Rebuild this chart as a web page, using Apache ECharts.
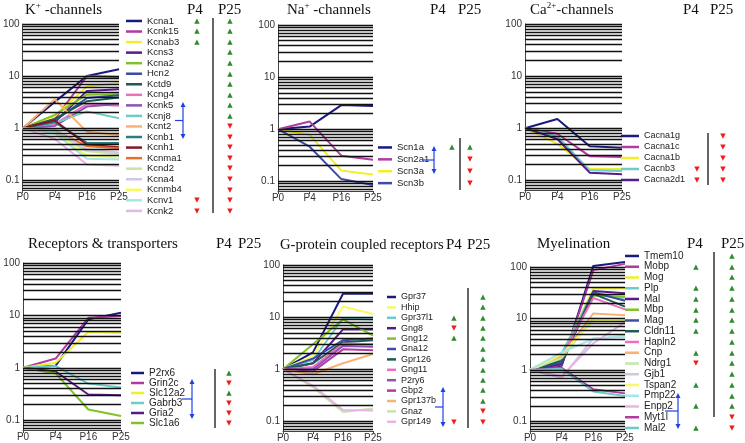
<!DOCTYPE html>
<html>
<head>
<meta charset="utf-8">
<script src="https://cdn.jsdelivr.net/npm/echarts@6/dist/echarts.min.js"></script>
<style>
  html, body { margin: 0; padding: 0; background: #fff; }
  #chart { width: 745px; height: 443px; }
</style>
</head>
<body>
<div id="chart"></div>
<script>
// ---- data ----
const xLabels = ['P0', 'P4', 'P16', 'P25'];
const gridTicks = [0.07, 0.08, 0.09, 0.1, 0.2, 0.3, 0.4, 0.5, 0.6, 0.7, 0.8, 0.9,
  1, 2, 3, 4, 5, 6, 7, 8, 9, 10, 20, 30, 40, 50, 60, 70, 80, 90, 100];

const kNames = ['Kcna1', 'Kcnk15', 'Kcnab3', 'Kcns3', 'Kcna2', 'Hcn2', 'Kctd9', 'Kcng4', 'Kcnk5', 'Kcnj8',
  'Kcnt2', 'Kcnb1', 'Kcnh1', 'Kcnma1', 'Kcnd2', 'Kcna4', 'Kcnmb4', 'Kcnv1', 'Kcnk2'];
const kValues = [
  [1, 3.2, 10, 13.5], [1, 1.5, 10, 9.6], [1, 1.7, 6.3, 7.3], [1, 1.3, 5.2, 5.6], [1, 1.8, 4.4, 4.5],
  [1, 1.4, 3.8, 4.3], [1, 1.5, 3.3, 3.9], [1, 1.2, 2.9, 2.7], [1, 1.1, 2.6, 2.9], [1, 1.25, 2.1, 1.55],
  [1, 3.6, 0.85, 0.74], [1, 1.3, 0.52, 0.52], [1, 1.4, 0.48, 0.43], [1, 0.9, 0.45, 0.41], [1, 0.85, 0.36, 0.32],
  [1, 0.95, 0.39, 0.34], [1, 0.8, 0.3, 0.27], [1, 0.8, 0.26, 0.25], [1, 0.62, 0.2, 0.19]];
const kP4 = ['u', 'u', 'u', '', '', '', '', '', '', '', '', '', '', '', '', '', '', 'd', 'd'];
const kP25 = ['u', 'u', 'u', 'u', 'u', 'u', 'u', 'u', 'u', 'u', 'd', 'd', 'd', 'd', 'd', 'd', 'd', 'd', 'd'];

const naNames = ['Scn1a', 'Scn2a1', 'Scn3a', 'Scn3b'];
const naValues = [[1, 1.12, 2.9, 2.8], [1, 1.4, 0.31, 0.26], [1, 0.78, 0.16, 0.135], [1, 0.46, 0.11, 0.085]];
const naP4 = ['u', '', '', ''];
const naP25 = ['u', 'd', 'd', 'd'];

const caNames = ['Cacna1g', 'Cacna1c', 'Cacna1b', 'Cacnb3', 'Cacna2d1'];
const caValues = [[1, 1.5, 0.45, 0.42], [1, 0.78, 0.29, 0.28], [1, 0.5, 0.165, 0.165],
  [1, 0.7, 0.155, 0.15], [1, 0.62, 0.14, 0.13]];
const caP4 = ['', '', '', 'd', 'd'];
const caP25 = ['d', 'd', 'd', 'd', 'd'];

const recNames = ['P2rx6', 'Grin2c', 'Slc12a2', 'Gabrb3', 'Gria2', 'Slc1a6'];
const recValues = [[1, 1.1, 8.4, 11.2], [1, 1.5, 9, 9.7], [1, 1.25, 4.8, 4.6],
  [1, 1.08, 0.5, 0.42], [1, 0.85, 0.31, 0.3], [1, 0.78, 0.16, 0.12]];
const recP4 = ['', '', '', '', '', ''];
const recP25 = ['u', 'd', 'u', 'd', 'd', 'd'];

const gpNames = ['Gpr37', 'Hhip', 'Gpr37l1', 'Gng8', 'Gng12', 'Gna12', 'Gpr126', 'Gng11', 'P2ry6', 'Gbp2',
  'Gpr137b', 'Gnaz', 'Gpr149'];
const gpValues = [[1, 2.1, 28, 28], [1, 1.8, 16, 11.5], [1, 1.5, 9.5, 9], [1, 1.3, 5.8, 5.8], [1, 3.0, 9, 4.4],
  [1, 1.6, 3.6, 3.9], [1, 1.3, 3.3, 3.6], [1, 1.1, 3.1, 3.0], [1, 1.0, 2.8, 2.7], [1, 0.9, 2.4, 2.3],
  [1, 0.8, 1.3, 1.95], [1, 0.45, 0.15, 0.175], [1, 0.48, 0.165, 0.16]];
const gpP4 = ['', '', 'u', 'd', 'u', '', '', '', '', '', '', '', 'd'];
const gpP25 = ['u', 'u', 'u', 'u', 'u', 'u', 'u', 'u', 'u', 'u', 'u', 'd', 'd'];

const myNames = ['Tmem10', 'Mobp', 'Mog', 'Plp', 'Mal', 'Mbp', 'Mag', 'Cldn11', 'Hapln2', 'Cnp',
  'Ndrg1', 'Gjb1', 'Tspan2', 'Pmp22', 'Enpp2', 'Myt1l', 'Mal2'];
const myValues = [[1, 1.2, 105, 125], [1, 1.25, 87, 115], [1, 2.0, 38, 38], [1, 2.1, 33, 23], [1, 1.3, 34, 31],
  [1, 1.6, 28, 26], [1, 1.4, 32, 22], [1, 1.5, 30, 17], [1, 1.8, 25, 15], [1, 1.9, 12.5, 11.5],
  [1, 1.7, 10, 9], [1, 0.7, 4.1, 4.4], [1, 2.0, 9, 9.5], [1, 2.2, 4.0, 4.6], [1, 0.75, 3.3, 8.5],
  [1, 1.1, 0.42, 0.35], [1, 1.05, 0.38, 0.31]];
const myP4 = ['', 'u', '', 'u', 'u', 'u', 'u', 'u', '', 'u', 'd', '', 'u', '', 'u', '', 'u'];
const myP25 = ['u', 'u', 'u', 'u', 'u', 'u', 'u', 'u', 'u', 'u', 'u', 'u', 'u', 'u', 'u', 'd', 'd'];

// ---- styles ----
const pal = ['#1a1a7e', '#b23aa0', '#f0ef2a', '#561a8a', '#82c12a', '#3b4ea3', '#1d5c52', '#f06ec0', '#8e52b4',
  '#6fcbcb', '#f9b272', '#2b7c84', '#861626', '#ec6c2a', '#c4e7a4', '#cfc7e3', '#fafa60', '#a6e8e8', '#e6b4e6'];
const upColor = '#2e8b2e';
const downColor = '#ee1c1c';
const serif = 'Liberation Serif';
const sans = 'Liberation Sans';

const panels = [
  { names: kNames, values: kValues, p4: kP4, p25: kP25,
    colors: pal.map((c, i) => i),
    grid: { left: 21, top: 24, width: 98, height: 166 },
    lg: { left: 126, top: 15.7, iw: 16, step: 10.55, fs: 9.5, nW: 44, bW: 54 } },
  { names: naNames, values: naValues, p4: naP4, p25: naP25,
    colors: [0, 1, 2, 5],
    grid: { left: 278, top: 25, width: 95, height: 166 },
    lg: { left: 378, top: 141.5, iw: 14, step: 11.9, fs: 9.5, nW: 49, bW: 24 } },
  { names: caNames, values: caValues, p4: caP4, p25: caP25,
    colors: [0, 1, 2, 9, 3],
    grid: { left: 525, top: 24, width: 97, height: 166 },
    lg: { left: 621, top: 130.5, iw: 18, step: 11, fs: 9, nW: 47, bW: 40 } },
  { names: recNames, values: recValues, p4: recP4, p25: recP25,
    colors: [0, 1, 2, 9, 3, 4],
    grid: { left: 23, top: 263, width: 98, height: 167 },
    lg: { left: 131, top: 368, iw: 13, step: 10, fs: 10, nW: 50, bW: 36 } },
  { names: gpNames, values: gpValues, p4: gpP4, p25: gpP25,
    colors: [0, 16, 9, 3, 4, 5, 6, 7, 8, 1, 10, 14, 18],
    grid: { left: 283, top: 265, width: 90, height: 166 },
    lg: { left: 387, top: 291.8, iw: 9, step: 10.4, fs: 9, nW: 47, bW: 46 } },
  { names: myNames, values: myValues, p4: myP4, p25: myP25,
    colors: [0, 1, 2, 9, 3, 4, 5, 6, 7, 10, 14, 15, 16, 17, 18, 1, 9],
    grid: { left: 530, top: 267, width: 95, height: 165 },
    lg: { left: 625, top: 250.6, iw: 14, step: 10.75, fs: 10, nW: 46, bW: 60 } }
];

function isDecade(v) {
  const l = Math.log10(v);
  return Math.abs(l - Math.round(l)) < 1e-6;
}

const grids = [], xAxes = [], yAxes = [], series = [], legends = [];

panels.forEach((p, pi) => {
  grids.push(p.grid);
  xAxes.push({
    gridIndex: pi, type: 'category', data: xLabels, boundaryGap: false,
    axisLine: { onZero: false, lineStyle: { color: '#444' } },
    axisTick: { length: 3, lineStyle: { color: '#444' } },
    axisLabel: { interval: 0, margin: 2, fontSize: 10, fontFamily: sans, color: '#333' },
    splitLine: { show: false }
  });
  yAxes.push({
    gridIndex: pi, type: 'log', min: 0.065, max: 100,
    axisLine: { show: true, lineStyle: { color: '#444' } },
    axisTick: { length: 3, lineStyle: { color: '#444' } },
    axisLabel: {
      margin: 3, fontSize: 10, fontFamily: sans, color: '#333',
      formatter: v => (isDecade(v) ? String(Math.round(v * 10) / 10) : '')
    },
    splitLine: { show: false }
  });

  // horizontal rulings of the log grid
  series.push({
    type: 'line', xAxisIndex: pi, yAxisIndex: pi, data: [], z: 1, silent: true,
    markLine: {
      silent: true, symbol: ['none', 'none'], animation: false,
      label: { show: false },
      lineStyle: { color: '#111', width: 1.3, type: 'solid' },
      emphasis: { disabled: true },
      data: gridTicks.map(v => ({ yAxis: v }))
    }
  });

  p.names.forEach((name, i) => {
    series.push({
      name, type: 'line', xAxisIndex: pi, yAxisIndex: pi, z: 3,
      data: p.values[i], showSymbol: false, clip: false,
      color: pal[p.colors[i]],
      lineStyle: { width: 2 },
      emphasis: { disabled: true }
    });
  });

  const sym = d => (d === 'u' ? '\u25B2' : d === 'd' ? '\u25BC' : '\u00a0');
  const tri = (w, c) => ({ width: w, align: 'center', fontSize: 7, fontFamily: 'DejaVu Sans', color: c, lineHeight: p.lg.step });
  legends.push({
    data: p.names, orient: 'vertical', left: p.lg.left, top: p.lg.top, padding: 0,
    itemGap: 0, itemWidth: p.lg.iw, itemHeight: 2.5, icon: 'rect', selectedMode: false,
    textStyle: {
      fontSize: p.lg.fs, fontFamily: sans, color: '#222', lineHeight: p.lg.step,
      rich: {
        n: { width: p.lg.nW, fontSize: p.lg.fs, fontFamily: sans, color: '#222', lineHeight: p.lg.step },
        au: tri(12, upColor), ad: tri(12, downColor), ae: tri(12, '#fff'),
        bu: tri(p.lg.bW, upColor), bd: tri(p.lg.bW, downColor), be: tri(p.lg.bW, '#fff')
      }
    },
    formatter: name => {
      const i = p.names.indexOf(name);
      const a = p.p4[i] || 'e', b = p.p25[i] || 'e';
      return `{n|${name}}{a${a}|${sym(p.p4[i])}}{b${b}|${sym(p.p25[i])}}`;
    }
  });
});

// ---- annotations ----
const graphic = [];
function title(x, y, parts, size) {
  const fs = size || 15;
  graphic.push({
    type: 'text', x, y, z: 10,
    style: {
      text: parts, verticalAlign: 'middle', fill: '#111',
      rich: {
        t: { fontFamily: serif, fontSize: fs, lineHeight: 18, fill: '#111' },
        s: { fontFamily: serif, fontSize: 9, lineHeight: 18, verticalAlign: 'top', fill: '#111' }
      }
    }
  });
}
title(25, 10, '{t|K}{s|+}{t| -channels}');
title(287, 10, '{t|Na}{s|+}{t| -channels}');
title(530, 10, '{t|Ca}{s|2+}{t|-channels}');
title(28, 244, '{t|Receptors & transporters}');
title(280, 245, '{t|G-protein coupled receptors}', 14.6);
title(537, 244, '{t|Myelination}');
[[187, 10], [218, 10], [430, 10], [458, 10], [683, 10], [710, 10],
 [216, 244], [238, 244], [446, 245], [467, 245], [687, 244], [721, 244]].forEach((pt, i) => {
  title(pt[0], pt[1], '{t|' + (i % 2 ? 'P25' : 'P4') + '}');
});

[[213, 18, 213], [460, 138, 190], [708, 133, 185], [215, 369, 428], [468, 288, 428], [714, 252, 417]]
  .forEach(s => graphic.push({
    type: 'line', z: 10, shape: { x1: s[0], y1: s[1], x2: s[0], y2: s[2] },
    style: { stroke: '#333', lineWidth: 1.5 }
  }));

function arrow(x, y1, y2, tx) {
  const blue = '#1f3fe6';
  const ym = (y1 + y2) / 2;
  graphic.push({ type: 'line', z: 10, shape: { x1: x, y1: y1 + 3, x2: x, y2: y2 - 3 }, style: { stroke: blue, lineWidth: 1.2 } });
  graphic.push({ type: 'line', z: 10, shape: { x1: tx, y1: ym, x2: x, y2: ym }, style: { stroke: blue, lineWidth: 1.2 } });
  graphic.push({ type: 'polygon', z: 10, shape: { points: [[x, y1], [x - 2.5, y1 + 5], [x + 2.5, y1 + 5]] }, style: { fill: blue } });
  graphic.push({ type: 'polygon', z: 10, shape: { points: [[x, y2], [x - 2.5, y2 - 5], [x + 2.5, y2 - 5]] }, style: { fill: blue } });
}
arrow(183, 102, 139, 175);
arrow(434, 146, 174, 422);
arrow(192, 379, 419, 182);
arrow(443, 387, 427, 435);
arrow(678, 393, 429, 665);

const chart = echarts.init(document.getElementById('chart'));
chart.setOption({
  animation: false,
  backgroundColor: '#fff',
  grid: grids,
  xAxis: xAxes,
  yAxis: yAxes,
  legend: legends,
  series,
  graphic
});
</script>
</body>
</html>
